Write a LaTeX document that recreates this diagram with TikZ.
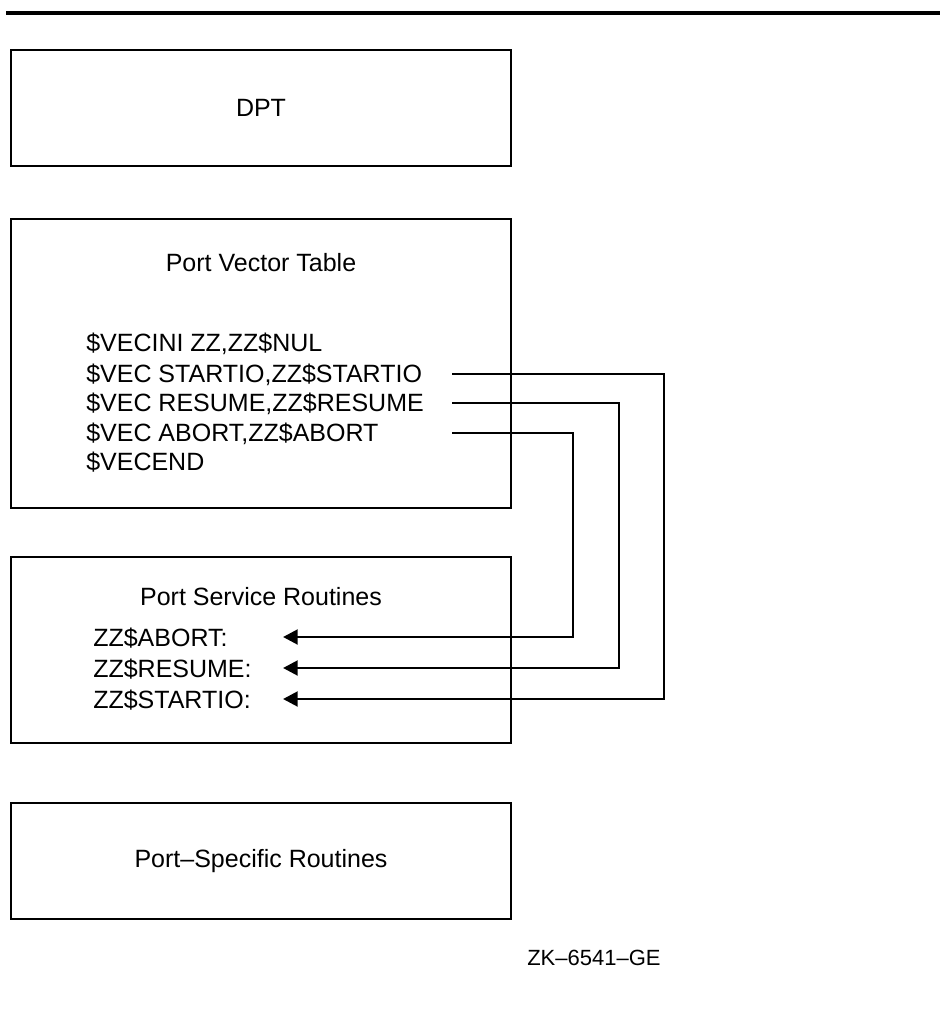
\documentclass[tikz,border=0pt]{standalone}
\usepackage{fontspec}
\setmainfont{Liberation Sans}
\usetikzlibrary{arrows.meta}

\begin{document}
\begin{tikzpicture}[
  x=0.75pt, y=-0.75pt,
  block/.style={rectangle, draw=black, line width=2.2pt, minimum width=375pt,
               inner sep=0pt, font=\fontsize{18.75}{22}\selectfont},
  title/.style={anchor=base, inner sep=0pt, font=\fontsize{18.75}{22}\selectfont},
  code/.style={anchor=base west, inner sep=0pt, font=\fontsize{18.75}{22}\selectfont},
  arr/.style={line width=2.2pt, -{Triangle[length=11pt,width=11pt]}}
]
\useasboundingbox (0,0) rectangle (942,1019);
\draw[line width=2.6pt] (6,13) -- (940,13);

\node[block, minimum height=87pt]     (dpt)   at (261,108)   {DPT};
\node[block, minimum height=216.75pt] (pvt)   at (261,363.5) {};
\node[block, minimum height=139.5pt]  (psr)   at (261,650)   {};
\node[block, minimum height=87pt]     (pspec) at (261,861)   {Port\textendash Specific Routines};

\node[title] (pvt-title) at (261,272) {Port Vector Table};
\node[code]  (vecini)  at (86,352) {\$VECINI ZZ,ZZ\$NUL};
\node[code]  (vstart)  at (86,382) {\$VEC STARTIO,ZZ\$STARTIO};
\node[code]  (vresume) at (86,411) {\$VEC RESUME,ZZ\$RESUME};
\node[code]  (vabort)  at (86,441) {\$VEC ABORT,ZZ\$ABORT};
\node[code]  (vecend)  at (86,470) {\$VECEND};

\node[title] (psr-title) at (261,605) {Port Service Routines};
\node[code]  (zabort)  at (93,646) {ZZ\$ABORT:};
\node[code]  (zresume) at (93,677) {ZZ\$RESUME:};
\node[code]  (zstart)  at (93,708) {ZZ\$STARTIO:};

\node[anchor=base west, inner sep=0pt, font=\fontsize{16.5}{20}\selectfont] (fig-id) at (527,965) {ZK\textendash 6541\textendash GE};

\coordinate (start-out)  at (452,374);
\coordinate (resume-out) at (452,403);
\coordinate (abort-out)  at (452,433);
\coordinate (abort-in)   at (283,637);
\coordinate (resume-in)  at (283,668);
\coordinate (start-in)   at (283,699);

\draw[arr] (start-out)  -- (664,374) |- (start-in);
\draw[arr] (resume-out) -- (619,403) |- (resume-in);
\draw[arr] (abort-out)  -- (573,433) |- (abort-in);
\end{tikzpicture}
\end{document}
